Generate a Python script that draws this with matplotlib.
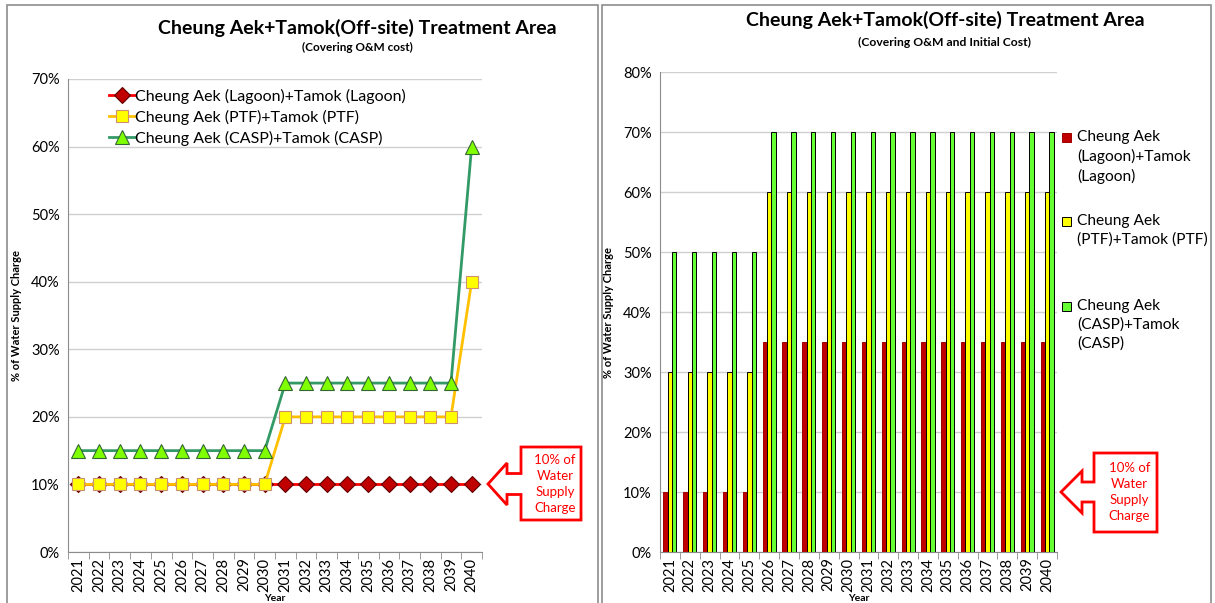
import numpy as np
import matplotlib.pyplot as plt
from matplotlib.patches import Rectangle, Polygon

plt.rcParams['font.family'] = ['Lato', 'DejaVu Sans']

# datos
years = [2021, 2022, 2023, 2024, 2025, 2026, 2027, 2028, 2029, 2030,
         2031, 2032, 2033, 2034, 2035, 2036, 2037, 2038, 2039, 2040]

# O&M cost (%)
om_lagoon = [10, 10, 10, 10, 10, 10, 10, 10, 10, 10, 10, 10, 10, 10, 10, 10, 10, 10, 10, 10]
om_ptf = [10, 10, 10, 10, 10, 10, 10, 10, 10, 10, 20, 20, 20, 20, 20, 20, 20, 20, 20, 40]
om_casp = [15, 15, 15, 15, 15, 15, 15, 15, 15, 15, 25, 25, 25, 25, 25, 25, 25, 25, 25, 60]

# O&M + initial cost (%)
tot_lagoon = [10, 10, 10, 10, 10, 35, 35, 35, 35, 35, 35, 35, 35, 35, 35, 35, 35, 35, 35, 35]
tot_ptf = [30, 30, 30, 30, 30, 60, 60, 60, 60, 60, 60, 60, 60, 60, 60, 60, 60, 60, 60, 60]
tot_casp = [50, 50, 50, 50, 50, 70, 70, 70, 70, 70, 70, 70, 70, 70, 70, 70, 70, 70, 70, 70]

labels_line = ['Cheung Aek (Lagoon)+Tamok (Lagoon)',
               'Cheung Aek (PTF)+Tamok (PTF)',
               'Cheung Aek (CASP)+Tamok (CASP)']
labels_bar = ['Cheung Aek\n(Lagoon)+Tamok\n(Lagoon)',
              'Cheung Aek\n(PTF)+Tamok (PTF)',
              'Cheung Aek\n(CASP)+Tamok\n(CASP)']

W, H = 1215, 603


def px(x, y):
    # pixel -> fraccion de figura
    return x / W, 1 - y / H


fig = plt.figure(figsize=(W / 100, H / 100), dpi=100)

# marcos de los dos graficos
for x0, x1 in [(7, 598), (602, 1211)]:
    fig.patches.append(Rectangle(px(x0, 610), (x1 - x0) / W, 605 / H,
                                 transform=fig.transFigure, fill=False,
                                 edgecolor='#8c8c8c', lw=1.2))


def estilo(ax, ymax):
    n = len(years)
    ax.set_xlim(-0.5, n - 0.5)
    ax.set_ylim(0, ymax)
    ax.set_yticks(np.arange(0, ymax + 1, 10))
    ax.set_yticklabels(['%d%%' % v for v in np.arange(0, ymax + 1, 10)], fontsize=10.5)
    ax.set_xticks(range(n))
    ax.set_xticklabels([str(y) for y in years], rotation=90, fontsize=10.5)
    ax.set_xticks(np.arange(-0.5, n, 1), minor=True)
    ax.tick_params(axis='x', which='major', length=0, pad=4)
    ax.tick_params(axis='x', which='minor', length=5, color='#8c8c8c')
    ax.tick_params(axis='y', length=0, pad=6)
    ax.grid(axis='y', color='#d0d0d0', lw=1)
    ax.set_axisbelow(True)
    for s in ['top', 'right']:
        ax.spines[s].set_visible(False)
    for s in ['left', 'bottom']:
        ax.spines[s].set_color('#8c8c8c')


# ---- grafico izquierdo: lineas
ax1 = fig.add_axes([68 / W, 1 - 552 / H, 414 / W, (552 - 79) / H])
x = np.arange(len(years))
ax1.plot(x, om_lagoon, color='#ff0000', lw=2, marker='D', ms=8.5,
         mfc='#c00000', mec='#600000', mew=0.8, label=labels_line[0])
ax1.plot(x, om_ptf, color='#ffc000', lw=2, marker='s', ms=9,
         mfc='#ffff00', mec='#d09070', mew=0.8, label=labels_line[1])
ax1.plot(x, om_casp, color='#339966', lw=2, marker='^', ms=10.5,
         mfc='#80ff00', mec='#336633', mew=0.8, label=labels_line[2])
estilo(ax1, 70)
ax1.legend(loc='upper left', bbox_to_anchor=(0.065, 1.01), frameon=False,
           fontsize=11.5, handlelength=1.6, handletextpad=0.0, labelspacing=0.38)
ax1.set_ylabel('% of Water Supply Charge', fontsize=8, fontweight='bold')
ax1.yaxis.set_label_coords(-0.11, 0.5)
ax1.set_xlabel('Year', fontsize=7.5, fontweight='bold')
ax1.xaxis.set_label_coords(0.5, -0.088)

fig.text(*px(357, 28), 'Cheung Aek+Tamok(Off-site) Treatment Area', ha='center', va='center',
         fontsize=14, fontweight='bold')
fig.text(*px(357, 47), '(Covering O&M cost)', ha='center', va='center',
         fontsize=8.5, fontweight='bold')

# ---- grafico derecho: barras
ax2 = fig.add_axes([660 / W, 1 - 552 / H, 397 / W, (552 - 72) / H])
bw = 0.22
colores = ['#c00000', '#ffff00', '#66ff33']
bordes = ['#a00000', '#000000', '#000000']
series = [tot_lagoon, tot_ptf, tot_casp]
for i, (vals, c, e) in enumerate(zip(series, colores, bordes)):
    ax2.bar(x + (i - 1) * bw, vals, width=bw, color=c, edgecolor=e, lw=0.7)
estilo(ax2, 80)
ax2.set_ylabel('% of Water Supply Charge', fontsize=8, fontweight='bold')
ax2.yaxis.set_label_coords(-0.115, 0.5)
ax2.set_xlabel('Year', fontsize=7.5, fontweight='bold')
ax2.xaxis.set_label_coords(0.5, -0.088)

fig.text(*px(945, 20), 'Cheung Aek+Tamok(Off-site) Treatment Area', ha='center', va='center',
         fontsize=14, fontweight='bold')
fig.text(*px(945, 42), '(Covering O&M and Initial Cost)', ha='center', va='center',
         fontsize=8.7, fontweight='bold')

# leyenda del grafico de barras
for lab, c, e, ytop in zip(labels_bar, colores, bordes, [133, 217, 302]):
    fig.patches.append(Rectangle(px(1062, ytop + 9), 9 / W, 9 / H, transform=fig.transFigure,
                                 facecolor=c, edgecolor=e, lw=0.7))
    fig.text(*px(1077, ytop - 3), lab, ha='left', va='top', fontsize=11.2,
             linespacing=1.42)


# llamadas "10% of Water Supply Charge"
def llamada(tip_x, tip_y, head_x, head_h, stem_h, bx0, bx1, by0, by1):
    pts = [(tip_x, tip_y), (head_x, tip_y - head_h), (head_x, tip_y - stem_h),
           (bx0, tip_y - stem_h), (bx0, by0), (bx1, by0), (bx1, by1), (bx0, by1),
           (bx0, tip_y + stem_h), (head_x, tip_y + stem_h), (head_x, tip_y + head_h)]
    fig.patches.append(Polygon([px(a, b) for a, b in pts], closed=True,
                               transform=fig.transFigure, facecolor='white',
                               edgecolor='#ff0000', lw=2))
    fig.text(*px((bx0 + bx1) / 2 + 4, (by0 + by1) / 2), '10% of\nWater\nSupply\nCharge',
             ha='center', va='center', color='#ff0000', fontsize=9.5, linespacing=1.4)


llamada(488, 484, 507, 21, 10.5, 521, 581, 447, 520)
llamada(1061, 492, 1082, 21, 10, 1094, 1157, 453, 532)

fig.savefig('out.png', dpi=100)
